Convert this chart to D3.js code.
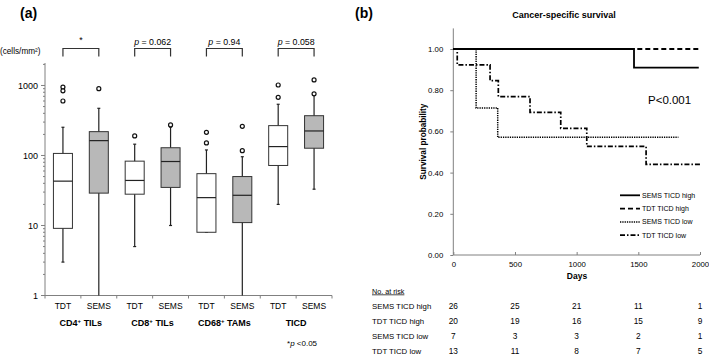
<!DOCTYPE html>
<html>
<head>
<meta charset="utf-8">
<script src="https://cdn.jsdelivr.net/npm/d3@7"></script>
<style>
  body { margin: 0; background: #fff; }
  svg { font-family: "Liberation Sans", Arial, sans-serif; }
</style>
</head>
<body>
<svg width="709" height="356"></svg>
<script>
// ---- panel (a) data : box plots (cells/mm2) ----
const groups = ['CD4', 'CD8', 'CD68', 'TICD'];
const arms = ['TDT', 'SEMS'];
const boxKeys = ['CD4-TDT', 'CD4-SEMS', 'CD8-TDT', 'CD8-SEMS', 'CD68-TDT', 'CD68-SEMS', 'TICD-TDT', 'TICD-SEMS'];
const whiskerLow = [3, 1, 5, 10, 8, 1, 20, 33];
const q1 = [9.1, 29, 28, 35, 8, 11, 72, 127];
const medians = [43, 163, 44, 82, 25, 27, 134, 224];
const q3 = [107, 219, 83, 129, 55, 50, 267, 370];
const whiskerHigh = [253, 472, 145, 255, 120, 96, 539, 730];
const outliers = [[950, 840, 600], [900], [190], [273], [214, 151], [261, 117], [1016, 678], [1199, 760]];
const pLabels = ['*', '= 0.062', '= 0.94', '= 0.058'];

// ---- panel (b) data : Kaplan-Meier ----
const seriesNames = ['SEMS TICD high', 'TDT TICD high', 'SEMS TICD low', 'TDT TICD low'];
const kmDays = [
  [0, 1465, 1990],
  [0, 2000],
  [0, 185, 360, 1825],
  [0, 32, 298, 365, 622, 871, 1082, 1563, 2000]
];
const kmSurv = [
  [1, 0.91, 0.91],
  [1, 1],
  [1, 0.714, 0.571, 0.571],
  [1, 0.923, 0.846, 0.769, 0.692, 0.615, 0.527, 0.44, 0.44]
];
const riskDays = [0, 500, 1000, 1500, 2000];
const atRisk = [
  [26, 25, 21, 11, 1],
  [20, 19, 16, 15, 9],
  [7, 3, 3, 2, 1],
  [13, 11, 8, 7, 5]
];

const svg = d3.select('svg');
const axisColor = '#808080';

// ================= panel (a) =================
const y = d3.scaleLog().domain([1, 2000]).range([295.5, 64.4]);
const x = d3.scaleBand().domain(boxKeys).range([45, 332]).paddingInner(0.47).paddingOuter(0.235);
const bw = x.bandwidth();
const cx = k => x(k) + bw / 2;

svg.append('text').attr('x', 20).attr('y', 18).attr('font-size', 14).attr('font-weight', 'bold').text('(a)');
svg.append('text').attr('x', 0).attr('y', 54).attr('font-size', 8.2).text('(cells/mm²)');

// y axis with minor log ticks
const gy = svg.append('g').attr('transform', 'translate(45,0)');
gy.append('line').attr('y1', y(1)).attr('y2', 63).attr('stroke', axisColor);
const minor = [];
[1, 10, 100, 1000].forEach(d => { for (let m = 2; m <= 9; m++) if (d * m <= 2000) minor.push(d * m); });
gy.selectAll('.mn').data(minor).join('line')
  .attr('x1', -2).attr('x2', 0).attr('y1', d => y(d)).attr('y2', d => y(d)).attr('stroke', axisColor);
gy.selectAll('.mj').data([1, 10, 100, 1000]).join('line')
  .attr('x1', -4).attr('x2', 0).attr('y1', d => y(d)).attr('y2', d => y(d)).attr('stroke', axisColor);
gy.selectAll('text').data([1, 10, 100, 1000]).join('text')
  .attr('x', -7).attr('y', d => y(d) + 3.2).attr('text-anchor', 'end').attr('font-size', 9).text(d => d);

// x axis
const gx = svg.append('g');
gx.append('line').attr('x1', 45).attr('x2', 332).attr('y1', y(1)).attr('y2', y(1)).attr('stroke', axisColor);
gx.selectAll('line.tk').data(d3.range(9)).join('line').attr('class', 'tk')
  .attr('x1', i => 45 + i * x.step()).attr('x2', i => 45 + i * x.step())
  .attr('y1', y(1)).attr('y2', y(1) + 3).attr('stroke', axisColor);
gx.selectAll('text.arm').data(boxKeys).join('text').attr('class', 'arm')
  .attr('x', k => cx(k)).attr('y', 309).attr('text-anchor', 'middle').attr('font-size', 8.5)
  .text(k => k.split('-')[1]);

const grpLab = gx.selectAll('text.grp').data(groups).join('text').attr('class', 'grp')
  .attr('x', (g, i) => (cx(boxKeys[2 * i]) + cx(boxKeys[2 * i + 1])) / 2)
  .attr('y', 326).attr('text-anchor', 'middle').attr('font-size', 9).attr('font-weight', 'bold');
grpLab.each(function (g) {
  const t = d3.select(this);
  if (g === 'TICD') { t.text('TICD'); return; }
  t.append('tspan').text(g);
  t.append('tspan').attr('font-size', 6).attr('dy', -3.5).text('+');
  t.append('tspan').attr('dy', 3.5).text(g === 'CD68' ? ' TAMs' : ' TILs');
});

// boxes
const boxes = svg.selectAll('g.box').data(boxKeys).join('g').attr('class', 'box');
boxes.append('line')
  .attr('x1', k => cx(k)).attr('x2', k => cx(k))
  .attr('y1', (k, i) => y(whiskerLow[i])).attr('y2', (k, i) => y(whiskerHigh[i]))
  .attr('stroke', '#222').attr('stroke-width', 1.2);
boxes.selectAll('line.cap').data((k, i) => [whiskerLow[i], whiskerHigh[i]].filter(v => v > 1).map(v => [k, v]))
  .join('line').attr('class', 'cap')
  .attr('x1', d => cx(d[0]) - 1.5).attr('x2', d => cx(d[0]) + 1.5)
  .attr('y1', d => y(d[1])).attr('y2', d => y(d[1])).attr('stroke', '#222').attr('stroke-width', 1.2);
boxes.append('rect')
  .attr('x', k => x(k)).attr('width', bw)
  .attr('y', (k, i) => y(q3[i])).attr('height', (k, i) => y(q1[i]) - y(q3[i]))
  .attr('fill', k => k.endsWith('SEMS') ? '#b8b8b8' : '#fff')
  .attr('stroke', '#333').attr('stroke-width', 1);
boxes.append('line')
  .attr('x1', k => x(k)).attr('x2', k => x(k) + bw)
  .attr('y1', (k, i) => y(medians[i])).attr('y2', (k, i) => y(medians[i]))
  .attr('stroke', '#222').attr('stroke-width', 1.2);
boxes.selectAll('circle').data((k, i) => outliers[i].map(v => [k, v])).join('circle')
  .attr('cx', d => cx(d[0])).attr('cy', d => y(d[1])).attr('r', 2)
  .attr('fill', '#fff').attr('stroke', '#111').attr('stroke-width', 1.2);

// significance brackets
const br = svg.selectAll('g.br').data(groups).join('g').attr('class', 'br');
br.append('path')
  .attr('d', (g, i) => {
    const a = cx(boxKeys[2 * i]), b = cx(boxKeys[2 * i + 1]);
    return `M${a},56.5V48.5H${b}V56.5`;
  })
  .attr('fill', 'none').attr('stroke', '#333').attr('stroke-width', 1.2);
br.append('text')
  .attr('x', (g, i) => (cx(boxKeys[2 * i]) + cx(boxKeys[2 * i + 1])) / 2)
  .attr('y', (g, i) => i === 0 ? 43 : 44.8).attr('text-anchor', 'middle').attr('font-size', 8.8)
  .each(function (g, i) {
    const t = d3.select(this);
    if (i === 0) { t.text('*'); return; }
    t.append('tspan').attr('font-style', 'italic').text('p');
    t.append('tspan').text(' ' + pLabels[i]);
  });

const note = svg.append('text').attr('x', 287).attr('y', 345.5).attr('font-size', 8);
note.append('tspan').text('*');
note.append('tspan').attr('font-style', 'italic').text('p');
note.append('tspan').text(' <0.05');

// ================= panel (b) =================
const sx = d3.scaleLinear().domain([0, 2000]).range([453.3, 700]);
const sy = d3.scaleLinear().domain([0, 1.1]).range([255, 28.4]);

svg.append('text').attr('x', 355).attr('y', 18).attr('font-size', 14).attr('font-weight', 'bold').text('(b)');
svg.append('text').attr('x', 564).attr('y', 17.5).attr('text-anchor', 'middle')
  .attr('font-size', 9).attr('font-weight', 'bold').text('Cancer-specific survival');

const yAx = svg.append('g').attr('transform', `translate(${sx(0)},0)`)
  .call(d3.axisLeft(sy).tickValues([0, 0.2, 0.4, 0.6, 0.8, 1.0]).tickFormat(d3.format('.2f')).tickSize(3).tickPadding(7));
const xAx = svg.append('g').attr('transform', `translate(0,${sy(0)})`)
  .call(d3.axisBottom(sx).tickValues(riskDays).tickFormat(d3.format('d')).tickSize(-3).tickPadding(6));
[yAx, xAx].forEach(a => {
  a.select('.domain').attr('stroke', axisColor);
  a.selectAll('.tick line').attr('stroke', axisColor);
  a.selectAll('text').attr('font-size', 7.8).attr('font-family', '"Liberation Sans", Arial, sans-serif').attr('fill', '#000');
});
xAx.select('.domain').attr('d', `M${sx(0)},0H${sx(2000)}`);
yAx.select('.domain').attr('d', `M0,${sy(0)}V${sy(1.1)}`);

svg.append('text').attr('transform', `translate(426,${(sy(0) + sy(1.1)) / 2}) rotate(-90)`)
  .attr('text-anchor', 'middle').attr('font-size', 8.2).attr('font-weight', 'bold').text('Survival probability');
svg.append('text').attr('x', 577).attr('y', 279).attr('text-anchor', 'middle')
  .attr('font-size', 8.5).attr('font-weight', 'bold').text('Days');
svg.append('text').attr('x', 648).attr('y', 104).attr('font-size', 11.5).text('P<0.001');

const dashes = [null, '5,3', '1.3,1', '5,2,1.5,2'];
const widths = [1.8, 1.8, 1.5, 1.7];
const line = d3.line().x(d => sx(d[0])).y(d => sy(d[1])).curve(d3.curveStepAfter);
// draw high series last so solid line sits over others
svg.selectAll('path.km').data([3, 2, 1, 0]).join('path').attr('class', 'km')
  .attr('d', s => line(kmDays[s].map((t, j) => [t, kmSurv[s][j]])))
  .attr('fill', 'none').attr('stroke', '#000')
  .attr('stroke-width', s => widths[s]).attr('stroke-dasharray', s => dashes[s]);

// legend
const lg = svg.selectAll('g.lg').data(seriesNames).join('g').attr('class', 'lg')
  .attr('transform', (d, i) => `translate(620,${195.3 + i * 13.3})`);
lg.append('line').attr('x1', 0).attr('x2', 20)
  .attr('stroke', '#000').attr('stroke-width', (d, i) => widths[i]).attr('stroke-dasharray', (d, i) => dashes[i]);
lg.append('text').attr('x', 22).attr('y', 2.5).attr('font-size', 7).text(d => d);

// number at risk table
svg.append('text').attr('x', 372).attr('y', 293.5).attr('font-size', 7.2)
  .attr('text-decoration', 'underline').text('No. at risk');
const rows = svg.selectAll('g.rk').data(seriesNames).join('g').attr('class', 'rk')
  .attr('transform', (d, i) => `translate(0,${309 + i * 15})`);
rows.append('text').attr('x', 372).attr('font-size', 7.8).text(d => d);
rows.selectAll('text.n').data((d, i) => atRisk[i]).join('text').attr('class', 'n')
  .attr('x', (v, j) => sx(riskDays[j])).attr('text-anchor', 'middle').attr('font-size', 8.3).text(v => v);
</script>
</body>
</html>
